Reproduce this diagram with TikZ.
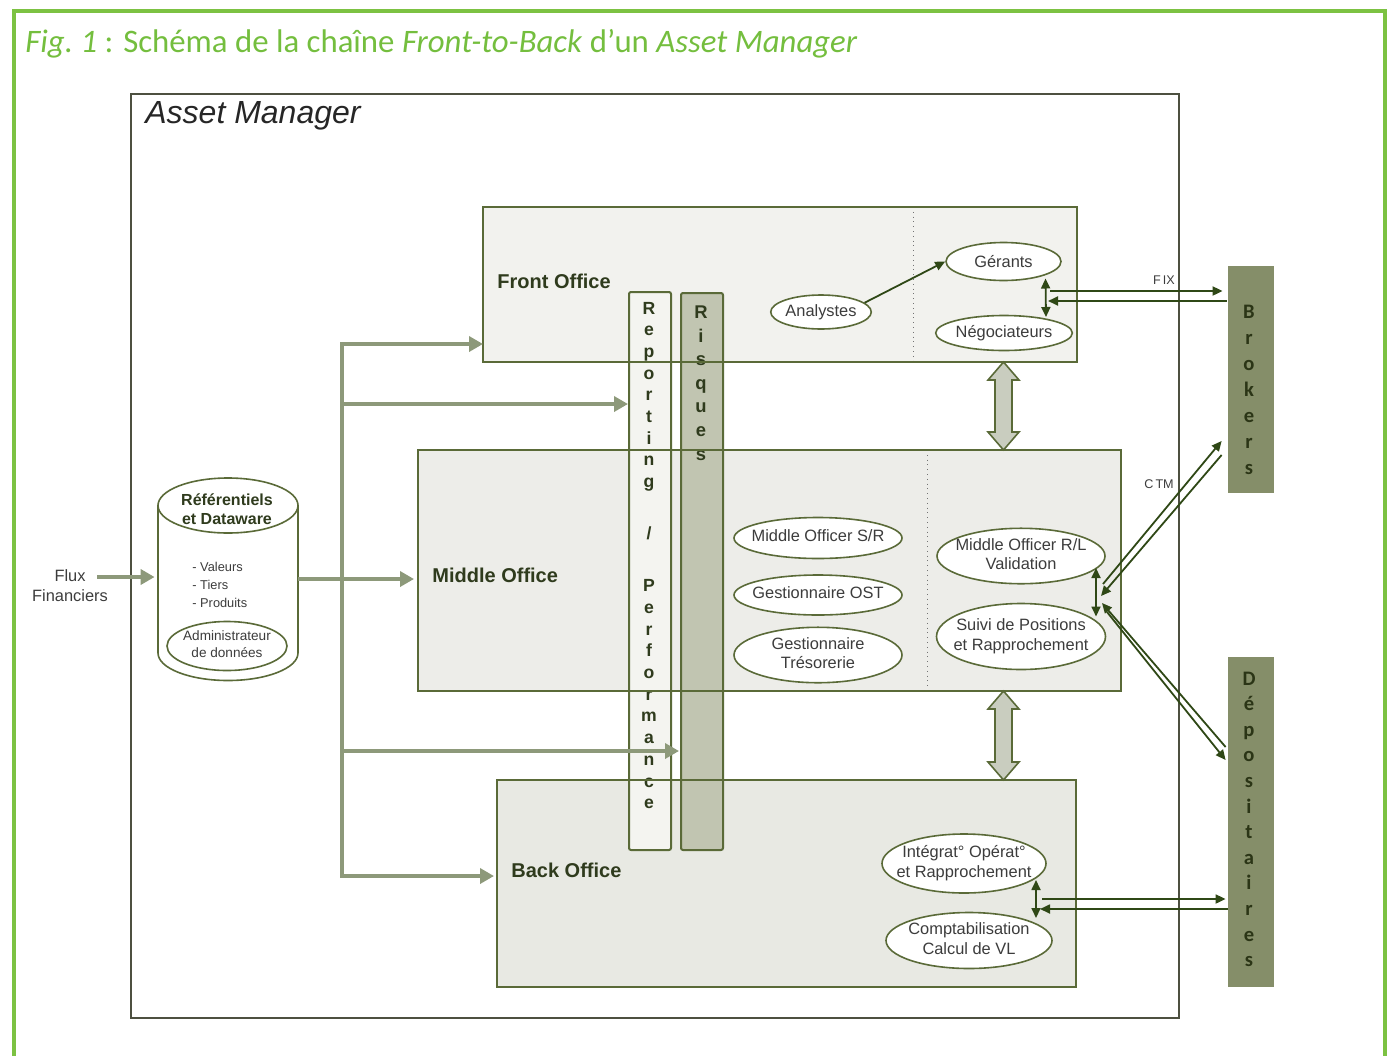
\documentclass[tikz,border=0pt]{standalone}
\usepackage{fontspec}
\setmainfont{Liberation Sans}
\newfontfamily\calib{Carlito}
\usetikzlibrary{arrows.meta,shapes.geometric,fit,calc}

\definecolor{frameGreen}{HTML}{7CC242}
\definecolor{titleGreen}{HTML}{74BE3E}
\definecolor{amLine}{HTML}{4D5040}
\definecolor{lineOl}{HTML}{5A6A38}
\definecolor{linkDk}{HTML}{2F4816}
\definecolor{flowC}{HTML}{8D997A}
\definecolor{foFill}{HTML}{F2F2EE}
\definecolor{moFill}{HTML}{EDEDE9}
\definecolor{boFill}{HTML}{E8E9E3}
\definecolor{repFill}{HTML}{F4F4F0}
\definecolor{riskFill}{HTML}{C1C5B1}
\definecolor{extFill}{HTML}{858E69}
\definecolor{blockFill}{HTML}{C9CDBF}
\definecolor{labelC}{HTML}{2F3B1D}
\definecolor{roleText}{HTML}{3C3C3C}
\definecolor{extText}{HTML}{2B3516}

% two-line role labels centred without widening their ellipse
\newcommand\rl[1]{\makebox[0pt]{\begin{tabular}{@{}c@{}}#1\end{tabular}}}

\begin{document}
\begin{tikzpicture}[x=0.5pt, y=-0.5pt,
  office/.style={draw=lineOl, line width=1pt, inner sep=0pt, outer sep=0pt},
  officelabel/.style={anchor=west, inner sep=0pt, font=\bfseries\fontsize{10}{12}\selectfont, text=labelC},
  role/.style={ellipse, draw=lineOl, line width=0.8pt, fill=white, inner sep=0pt,
    font=\fontsize{8.2}{9.8}\selectfont, text=roleText},
  flow/.style={draw=flowC, line width=2pt, line join=miter, -{Triangle[length=7pt,width=7.5pt]}},
  link/.style={draw=linkDk, line width=0.9pt, -{Triangle[length=5pt,width=4.5pt]}},
  dlink/.style={draw=linkDk, line width=0.9pt, {Triangle[length=5pt,width=4.5pt]}-{Triangle[length=5pt,width=4.5pt]}},
  block/.style={draw=lineOl, line width=0.8pt, fill=blockFill, line join=miter},
  column/.style={draw=lineOl, line width=1pt, inner sep=0pt, rounded corners=1pt},
  extbox/.style={fill=extFill, inner sep=0pt},
  repletter/.style={anchor=base, inner sep=0pt, font=\bfseries\fontsize{8.8}{10}\selectfont, text=labelC},
  riskletter/.style={anchor=base, inner sep=0pt, font=\bfseries\fontsize{9.2}{10}\selectfont, text=labelC},
  extletter/.style={anchor=base, inner sep=0pt, font=\calib\bfseries\fontsize{10.3}{12}\selectfont, text=extText},
  small/.style={font=\fontsize{6.5}{8}\selectfont, text=roleText, inner sep=0pt}
]
\useasboundingbox (0,0) rectangle (1391,1055);

% outer frame and caption
\draw[frameGreen, line width=2pt] (14,1056) -- (14,11) -- (1385,11) -- (1385,1056);
\node[anchor=west, inner sep=0pt, text=titleGreen, font=\calib\fontsize{16.4}{19}\selectfont] (caption) at (25,44)
  {\textit{Fig.\ 1} : Schéma de la chaîne \textit{Front-to-Back} d’un \textit{Asset Manager}};

% Asset Manager enclosure
\node[fit={(131,94) (1179,1018)}, draw=amLine, line width=1pt, inner sep=0pt] (am) {};
\node[anchor=west, inner sep=0pt, font=\itshape\fontsize{16}{18}\selectfont, text=black!85] (amtitle) at (145,116) {Asset Manager};

% office boxes
\node[office, fill=foFill, fit={(483,207) (1077,362)}] (fo) {};
\node[office, fill=moFill, fit={(418,450) (1121,691)}] (mo) {};
\node[office, fill=boFill, fit={(497,780) (1076,987)}] (bo) {};

% dotted separators inside Front and Middle Office
\draw[black!55, line width=0.4pt, dotted] (fo.north -| 913,0) -- (fo.south -| 913,0);
\draw[black!55, line width=0.4pt, dotted] (mo.north -| 927,0) -- (mo.south -| 927,0);

% transverse columns
\node[column, fill=repFill, fit={(629,292) (671,850)}] (rep) {};
\node[column, fill=riskFill, fit={(681,293) (723,850)}] (risk) {};

% column lettering
\foreach \l/\i in {R/0,e/1,p/2,o/3,r/4,t/5,i/6,n/7,g/8,{/}/10.4,P/12.8,e/13.8,r/14.8,f/15.8,o/16.8,r/17.8,m/18.8,a/19.8,n/20.8,c/21.8,e/22.8}
  \node[repletter] at (649,{314+21.7*\i}) {\l};
\foreach \l/\i in {R/0,i/1,s/2,q/3,u/4,e/5,s/6}
  \node[riskletter] at (701,{318.5+23.6*\i}) {\l};

% office outlines redrawn above the columns
\draw[lineOl, line width=1pt] (fo.north west) rectangle (fo.south east);
\draw[lineOl, line width=1pt] (mo.north west) rectangle (mo.south east);
\draw[lineOl, line width=1pt] (bo.north west) rectangle (bo.south east);

\node[officelabel] (folbl) at (497,281) {Front Office};
\node[officelabel] (molbl) at (432,575) {Middle Office};
\node[officelabel] (bolbl) at (511,870) {Back Office};

% external parties
\node[extbox, fit={(1228,266) (1274,493)}] (brk) {};
\node[extbox, fit={(1228,657) (1274,987)}] (dep) {};
\foreach \l/\i in {B/0,r/1,o/2,k/3,e/4,r/5,s/6}
  \node[extletter] at (1249,{318+26*\i}) {\l};
\foreach \l/\i in {D/0,é/1,p/2,o/3,s/4,i/5,t/6,a/7,i/8,r/9,e/10,s/11}
  \node[extletter] at (1249,{685+25.6*\i}) {\l};

% Front Office roles
\node[role, minimum width=57.5pt, minimum height=19pt] (ger) at (1003.5,261.5) {Gérants};
\node[role, minimum width=58pt, minimum height=17.5pt] (neg) at (1004,333) {Négociateurs};
\node[role, minimum width=47pt, minimum height=17pt] (ana) at (821,312) {Analystes};

% Middle Office roles
\node[role, minimum width=84pt, minimum height=20.5pt] (mosr) at (818,538) {\rl{Middle Officer S/R}};
\node[role, minimum width=84pt, minimum height=20pt] (ost) at (818,595) {\rl{Gestionnaire OST}};
\node[role, minimum width=84pt, minimum height=23.5pt] (treso) at (818,655) {\rl{Gestionnaire\\Trésorerie}};
\node[role, minimum width=84pt, minimum height=27.5pt] (morl) at (1021,556) {\rl{Middle Officer R/L\\Validation}};
\node[role, minimum width=84.5pt, minimum height=33pt] (suivi) at (1021,636.5) {\rl{Suivi de Positions\\et Rapprochement}};

% Back Office roles
\node[role, minimum width=82pt, minimum height=29.5pt] (integ) at (964,863.5) {\rl{Intégrat° Opérat°\\et Rapprochement}};
\node[role, minimum width=83pt, minimum height=28pt] (compta) at (969,940.5) {\rl{Comptabilisation\\Calcul de VL}};

% links between roles
\draw[link] (ana.12) -- (ger.west);
\draw[dlink] ($(ger.center)+(42,17)$) -- ($(neg.center)+(42,-16)$);
\draw[dlink] ($(morl.center)+(75,12)$) -- ($(suivi.center)+(75,-20)$);
\draw[dlink] ($(integ.center)+(72,16.5)$) -- ($(compta.center)+(67,-22.5)$);

% FIX with the brokers
\coordinate (fixA) at (1050,291);
\coordinate (fixB) at (1048,301);
\draw[link] (fixA) -- ([xshift=-2.5pt]fixA -| brk.west);
\draw[link] ([xshift=-0.5pt]fixB -| brk.west) -- (fixB);
\node[small, font=\fontsize{6.3}{8}\selectfont] (fixlbl) at (1164,280) {F\,IX};

% CTM with the brokers
\coordinate (ctmA) at (1103,584);
\coordinate (ctmB) at (1101,596);
\draw[link] (ctmA) -- ($(brk.west)+(-6,61.5)$);
\draw[link] ($(brk.west)+(-6,75.5)$) -- (ctmB);
\node[small, font=\fontsize{6.3}{8}\selectfont] (ctmlbl) at (1159,484) {C\,TM};

% custodians
\coordinate (depC) at (1102,603);
\coordinate (depD) at (1107,612);
\draw[link] ($(dep.west)+(-2,-75)$) -- (depC);
\draw[link] (depD) -- ($(dep.west)+(-2,-62)$);
\coordinate (bdA) at (1042,899);
\coordinate (bdB) at (1040,909);
\draw[link] (bdA) -- ([xshift=-1pt]bdA -| dep.west);
\draw[link] (bdB -| dep.west) -- (bdB);

% wide double arrows between offices
\newcommand\blockarrow[2]{%
  \draw[block] (#1) -- ($(#1)+(15.5,18)$) -- ($(#1)+(8.5,18)$) -- ($(#2)+(8.5,-18)$)
    -- ($(#2)+(15.5,-18)$) -- (#2) -- ($(#2)+(-15.5,-18)$) -- ($(#2)+(-8.5,-18)$)
    -- ($(#1)+(-8.5,18)$) -- ($(#1)+(-15.5,18)$) -- cycle;}
\coordinate (bx) at (1003.5,0);
\blockarrow{fo.south -| bx}{mo.north -| bx}
\blockarrow{mo.south -| bx}{bo.north -| bx}

% data repository cylinder
\node[fit={(158,478) (298,681)}, inner sep=0pt] (db) {};
\draw[lineOl, line width=0.8pt, fill=white] (158,505.5) -- (158,653)
   arc[start angle=180, end angle=360, x radius=35pt, y radius=13.75pt] -- (298,505.5) -- cycle;
\draw[lineOl, line width=0.8pt, fill=white] (228,505.5) ellipse [x radius=35pt, y radius=13.75pt];
\node[inner sep=0pt, align=center, font=\bfseries\fontsize{8}{9.5}\selectfont, text=labelC] (dbtitle) at (227,509) {Référentiels\\et Dataware};
\node[small, anchor=west, align=left, font=\fontsize{6.4}{8.8}\selectfont] (dblist) at (192,585) {- Valeurs\\- Tiers\\- Produits};
\node[role, minimum width=60pt, minimum height=24.5pt, font=\fontsize{6.8}{8.4}\selectfont] (admin) at (227,646) {\rl{Administrateur\\de données}};

% incoming financial flows
\node[inner sep=0pt, align=center, font=\fontsize{8.2}{10}\selectfont, text=roleText] (flux) at (70,586) {Flux\\Financiers};

% distribution flows
\coordinate (fluxA) at (97,577);
\draw[flow] (fluxA) -- ([xshift=-1.5pt]fluxA -| db.west);
\coordinate (dbO) at (298,579);
\draw[flow, shorten >=2pt] (dbO) -- (dbO -| mo.west);
\coordinate (busT) at (342,344);
\coordinate (busR) at (342,404);
\coordinate (busK) at (342,751);
\coordinate (busB) at (342,876);
\draw[flow] (busB) -- (busT) -- (busT -| fo.west);
\draw[flow] (busR) -- (busR -| rep.west);
\draw[flow] (busK) -- ([xshift=-0.5pt]busK -| risk.west);
\draw[flow, shorten >=1.5pt] (busT) -- (busB) -- (busB -| bo.west);

\end{tikzpicture}
\end{document}
